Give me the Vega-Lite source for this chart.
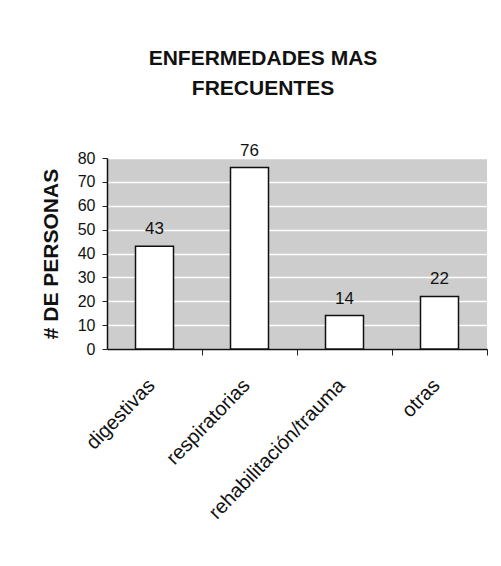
{
  "$schema": "https://vega.github.io/schema/vega-lite/v6.json",
  "autosize": "none",
  "width": 380,
  "height": 191,
  "padding": {"left": 107, "top": 158, "right": 14, "bottom": 217},
  "background": "white",
  "config": {
    "font": "Liberation Sans",
    "view": {"fill": "#cdcdcd", "stroke": null}
  },
  "title": {
    "text": ["ENFERMEDADES MAS", "FRECUENTES"],
    "font": "Liberation Sans",
    "fontSize": 21,
    "fontWeight": "bold",
    "color": "#111111",
    "anchor": "middle",
    "dx": -34,
    "lineHeight": 30,
    "offset": 43
  },
  "data": {
    "values": [
      {"categoria": "digestivas", "personas": 43},
      {"categoria": "respiratorias", "personas": 76},
      {"categoria": "rehabilitación/trauma", "personas": 14},
      {"categoria": "otras", "personas": 22}
    ]
  },
  "encoding": {
    "x": {
      "field": "categoria",
      "type": "nominal",
      "sort": null,
      "scale": {"paddingInner": 0.6, "paddingOuter": 0.3},
      "axis": {
        "title": null,
        "labelAngle": -46,
        "labelAlign": "right",
        "labelBaseline": "top",
        "labelFontSize": 20,
        "labelColor": "#111111",
        "labelLimit": 400,
        "labelPadding": 20,
        "tickOffset": 47.5,
        "labelOffset": -58,
        "tickSize": 6,
        "tickColor": "#222222",
        "domainColor": "#111111",
        "domainWidth": 1.5,
        "grid": false
      }
    },
    "y": {
      "field": "personas",
      "type": "quantitative",
      "scale": {"domain": [0, 80], "nice": false},
      "axis": {
        "title": "# DE PERSONAS",
        "titleFontSize": 21,
        "titleFontWeight": "bold",
        "titleColor": "#111111",
        "titlePadding": 16,
        "values": [0, 10, 20, 30, 40, 50, 60, 70, 80],
        "labelFontSize": 16,
        "labelColor": "#111111",
        "labelPadding": 7,
        "tickSize": 5,
        "tickColor": "#222222",
        "domainColor": "#111111",
        "domainWidth": 1.5,
        "grid": true,
        "gridColor": "white",
        "gridWidth": 1.5
      }
    }
  },
  "layer": [
    {
      "mark": {"type": "bar", "fill": "white", "stroke": "#111111", "strokeWidth": 1.5}
    },
    {
      "mark": {"type": "text", "dy": -12, "baseline": "alphabetic", "fontSize": 17, "color": "#111111"},
      "encoding": {"text": {"field": "personas", "type": "quantitative"}}
    }
  ]
}
